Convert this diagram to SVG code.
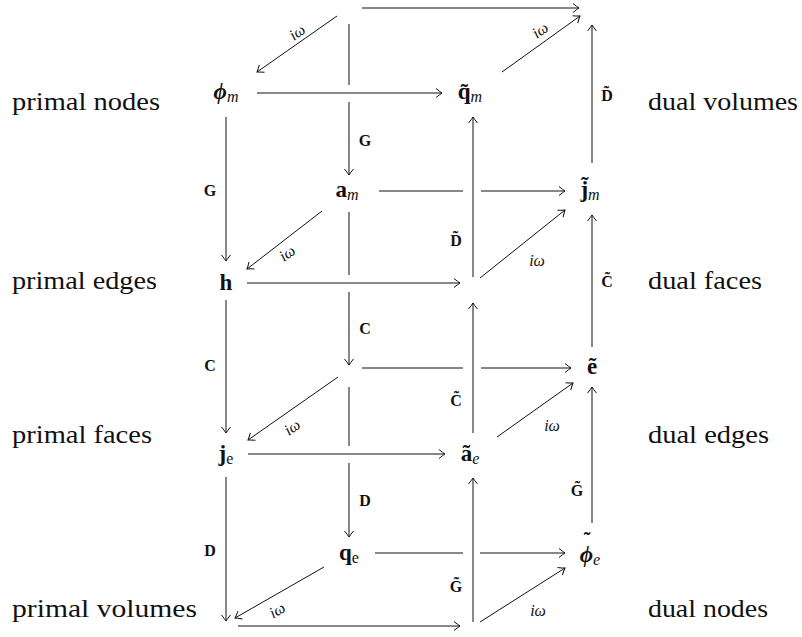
<svg xmlns="http://www.w3.org/2000/svg" width="802" height="637" viewBox="0 0 802 637">
<defs>
<style>
.ln{stroke:#111;stroke-width:1;fill:none}
.ar{marker-end:url(#ah)}
.side{font-family:"Liberation Serif",serif;font-size:25px;fill:#111}
.nd{font-family:"Liberation Serif",serif;font-size:23px;font-weight:bold;fill:#111;text-anchor:middle}
.sub{font-size:16px;font-weight:normal;font-style:italic}
.subr{font-size:16px;font-weight:normal;font-style:normal}
.tl{font-size:20px;font-weight:bold;font-style:normal}
.op{font-family:"Liberation Serif",serif;font-size:16px;font-weight:bold;fill:#111;text-anchor:middle;dominant-baseline:central}
.iw{font-family:"Liberation Serif",serif;font-size:16px;font-style:italic;fill:#111;text-anchor:middle;dominant-baseline:central}
</style>
<marker id="ah" viewBox="-7 -6 8 12" refX="0" refY="0" markerWidth="8" markerHeight="12" markerUnits="userSpaceOnUse" orient="auto">
<path d="M -6 -4.5 Q -2 -1.2 0 0 Q -2 1.2 -6 4.5" fill="none" stroke="#111" stroke-width="1"/>
</marker>
</defs>
<rect width="802" height="637" fill="#fff"/>

<g id="side-labels" font-family="Liberation Serif, serif">
<text class="side" x="12" y="110" textLength="148" lengthAdjust="spacingAndGlyphs">primal nodes</text>
<text class="side" x="12" y="289" textLength="145" lengthAdjust="spacingAndGlyphs">primal edges</text>
<text class="side" x="12" y="443" textLength="140" lengthAdjust="spacingAndGlyphs">primal faces</text>
<text class="side" x="12" y="617" textLength="185" lengthAdjust="spacingAndGlyphs">primal volumes</text>
<text class="side" x="648" y="110" textLength="150" lengthAdjust="spacingAndGlyphs">dual volumes</text>
<text class="side" x="648" y="289" textLength="114" lengthAdjust="spacingAndGlyphs">dual faces</text>
<text class="side" x="648" y="443" textLength="121" lengthAdjust="spacingAndGlyphs">dual edges</text>
<text class="side" x="648" y="617" textLength="120" lengthAdjust="spacingAndGlyphs">dual nodes</text>
</g>

<g id="connectors">
<line class="ln ar" x1="226" y1="117" x2="226" y2="261"/>
<line class="ln ar" x1="226" y1="300" x2="226" y2="433"/>
<line class="ln ar" x1="226" y1="477" x2="226" y2="621"/>
<line class="ln" x1="349" y1="24" x2="349" y2="85"/>
<line class="ln ar" x1="349" y1="102" x2="349" y2="175"/>
<line class="ln" x1="349" y1="212" x2="349" y2="275"/>
<line class="ln ar" x1="349" y1="292" x2="349" y2="365"/>
<line class="ln" x1="349" y1="387" x2="349" y2="446"/>
<line class="ln ar" x1="349" y1="463" x2="349" y2="537"/>
<line class="ln ar" x1="473" y1="277" x2="473" y2="117"/>
<line class="ln ar" x1="473" y1="433" x2="473" y2="303"/>
<line class="ln ar" x1="473" y1="622" x2="473" y2="478"/>
<line class="ln ar" x1="592" y1="163" x2="592" y2="25"/>
<line class="ln ar" x1="592" y1="347" x2="592" y2="215"/>
<line class="ln ar" x1="592" y1="523" x2="592" y2="387"/>
<line class="ln ar" x1="257" y1="93" x2="442" y2="93"/>
<line class="ln ar" x1="247" y1="283" x2="460" y2="283"/>
<line class="ln ar" x1="248" y1="454" x2="445" y2="454"/>
<line class="ln ar" x1="238" y1="626" x2="460" y2="626"/>
<line class="ln ar" x1="362" y1="8" x2="579" y2="8"/>
<line class="ln" x1="379" y1="191" x2="463" y2="191"/>
<line class="ln ar" x1="481" y1="191" x2="565" y2="191"/>
<line class="ln" x1="362" y1="368" x2="463" y2="368"/>
<line class="ln ar" x1="481" y1="368" x2="571" y2="368"/>
<line class="ln" x1="375" y1="553" x2="463" y2="553"/>
<line class="ln ar" x1="480" y1="553" x2="565" y2="553"/>
<line class="ln ar" x1="337" y1="16" x2="257" y2="72"/>
<line class="ln ar" x1="322" y1="211" x2="247" y2="269"/>
<line class="ln ar" x1="338" y1="377" x2="248" y2="440"/>
<line class="ln ar" x1="324" y1="567" x2="235" y2="618"/>
<line class="ln ar" x1="502" y1="72" x2="580" y2="16"/>
<line class="ln ar" x1="480" y1="278" x2="565" y2="210"/>
<line class="ln ar" x1="497" y1="437" x2="573" y2="383"/>
<line class="ln ar" x1="480" y1="622" x2="565" y2="568"/>
</g>

<g id="edge-labels">
<text class="op" x="365" y="140">G</text>
<text class="op" x="365" y="328">C</text>
<text class="op" x="365" y="500">D</text>
<text class="op" x="210" y="190">G</text>
<text class="op" x="210" y="365">C</text>
<text class="op" x="210" y="550">D</text>
<text class="op" x="456" y="240">D̃</text>
<text class="op" x="456" y="400">C̃</text>
<text class="op" x="456" y="586">G̃</text>
<text class="op" x="607" y="95">D̃</text>
<text class="op" x="607" y="281">C̃</text>
<text class="op" x="577" y="490">G̃</text>
<text class="iw" transform="translate(297,32) rotate(-35)">iω</text>
<text class="iw" transform="translate(287,253) rotate(-35)">iω</text>
<text class="iw" transform="translate(292,427) rotate(-35)">iω</text>
<text class="iw" transform="translate(277,610) rotate(-30)">iω</text>
<text class="iw" transform="translate(540,30) rotate(-35)">iω</text>
<text class="iw" x="537" y="260">iω</text>
<text class="iw" x="552" y="425">iω</text>
<text class="iw" x="538" y="610">iω</text>
</g>

<g id="node-phi-m"><text class="nd" x="226" y="99"><tspan font-style="italic">ϕ</tspan><tspan class="sub" dy="3">m</tspan></text></g>
<g id="node-q-tilde-m"><text class="nd" x="470" y="99">q̃<tspan class="sub" dy="3">m</tspan></text></g>
<g id="node-a-m"><text class="nd" x="347" y="197">a<tspan class="sub" dy="3">m</tspan></text></g>
<g id="node-j-tilde-m"><text class="nd" x="590" y="197">j̃<tspan class="sub" dy="3">m</tspan></text></g>
<g id="node-h"><text class="nd" x="226" y="290">h</text></g>
<g id="node-e-tilde"><text class="nd" x="592" y="374">ẽ</text></g>
<g id="node-j-e"><text class="nd" x="226" y="461">j<tspan class="subr" dy="3">e</tspan></text></g>
<g id="node-a-tilde-e"><text class="nd" x="470" y="461">ã<tspan class="sub" dy="3">e</tspan></text></g>
<g id="node-q-e"><text class="nd" x="349" y="560">q<tspan class="subr" dy="3">e</tspan></text></g>
<g id="node-phi-tilde-e"><text class="nd" x="590" y="562"><tspan font-style="italic">ϕ</tspan><tspan class="sub" dy="3">e</tspan><tspan class="tl" x="587" y="547">˜</tspan></text></g>
</svg>
